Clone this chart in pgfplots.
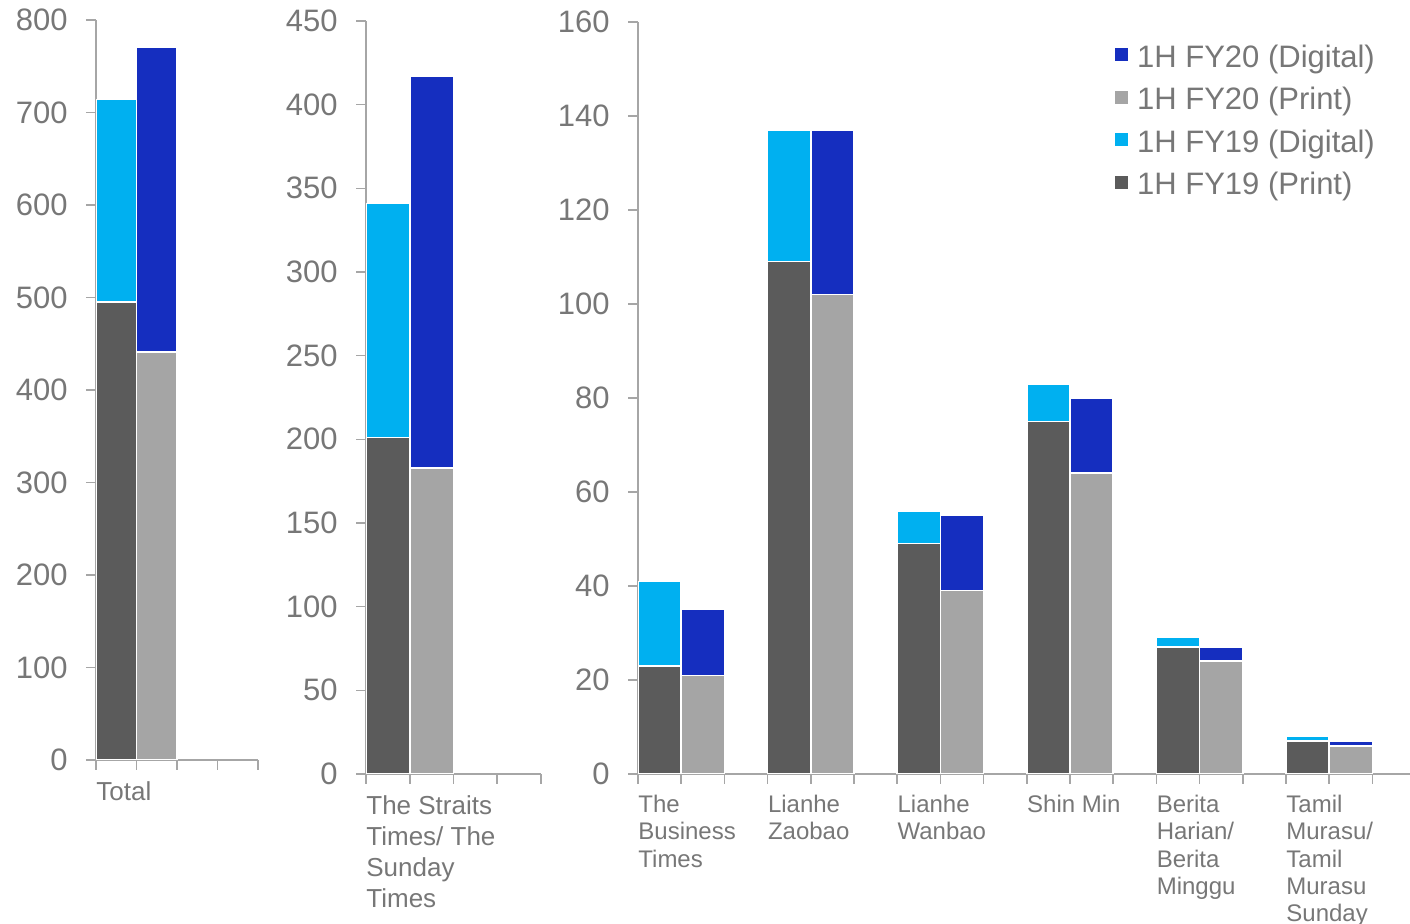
\documentclass[border=0pt]{standalone}
\usepackage{pgfplots}
\pgfplotsset{compat=1.18}
\usepackage{pgfplotstable}
\usepackage{fontspec}
\setmainfont{Liberation Sans}
\definecolor{pA}{HTML}{5B5B5B}
\definecolor{pB}{HTML}{A5A5A5}
\definecolor{dA}{HTML}{00B0F0}
\definecolor{dB}{HTML}{152EBF}
\definecolor{txt}{HTML}{777777}
\definecolor{axl}{HTML}{A6A6A6}

\pgfplotstableread{
x p19 d19 p20 d20
0.5 495 219 0 0
1.5 0 0 441 330
}\totaltab
\pgfplotstableread{
x p19 d19 p20 d20
0.5 201 140 0 0
1.5 0 0 183 234
}\sttab
\pgfplotstableread{
x p19 d19 p20 d20
0.5 23 18 0 0
1.5 0 0 21 14
3.5 109 28 0 0
4.5 0 0 102 35
6.5 49 7 0 0
7.5 0 0 39 16
9.5 75 8 0 0
10.5 0 0 64 16
12.5 27 2 0 0
13.5 0 0 24 3
15.5 7 1 0 0
16.5 0 0 6 1
}\othertab

\pgfplotsset{
  panel/.style={
    scale only axis, ybar stacked, bar width=1, ymin=0, xmin=0,
    enlargelimits=false,
    axis x line=bottom, axis y line=left,
    axis line style={axl, line width=1pt, -},
    tick style={axl, line width=0.8pt}, tick align=outside,
    major tick length=5pt,
    xticklabels={},
    yticklabel style={font=\fontsize{15.5}{15.5}\selectfont, text=txt, anchor=east, inner sep=0pt, xshift=-9pt},
    /pgf/number format/assume math mode=true,
    every axis plot/.append style={draw=white, line width=0.75pt},
    extra x tick style={major tick length=0pt,
      xticklabel style={anchor=north west, align=left, inner sep=0pt, text=txt, yshift=-10.5pt}},
  },
}

\begin{document}
\begin{tikzpicture}
\useasboundingbox (0,0) rectangle (705pt,462pt);

% Panel 1: Total
\begin{axis}[panel, at={(48pt,82pt)}, anchor=south west,
  width=81pt, height=370pt, xmax=4, ymax=800,
  xtick={0,1,2,3,4}, ytick={0,100,...,800},
  extra x ticks={0}, extra x tick labels={Total},
  extra x tick style={xticklabel style={font=\fontsize{13}{15.5}\selectfont}}]
\addplot[fill=pA] table[x=x,y=p19] {\totaltab};
\addplot[fill=dA] table[x=x,y=d19] {\totaltab};
\addplot[fill=pB] table[x=x,y=p20] {\totaltab};
\addplot[fill=dB] table[x=x,y=d20] {\totaltab};
\end{axis}

% Panel 2: The Straits Times
\begin{axis}[panel, at={(183pt,75pt)}, anchor=south west,
  width=87.5pt, height=376.5pt, xmax=4, ymax=450,
  xtick={0,1,2,3,4}, ytick={0,50,...,450},
  extra x ticks={0}, extra x tick labels={{The Straits\\Times/ The\\Sunday\\Times}},
  extra x tick style={xticklabel style={font=\fontsize{13}{15.5}\selectfont}}]
\addplot[fill=pA] table[x=x,y=p19] {\sttab};
\addplot[fill=dA] table[x=x,y=d19] {\sttab};
\addplot[fill=pB] table[x=x,y=p20] {\sttab};
\addplot[fill=dB] table[x=x,y=d20] {\sttab};
\end{axis}

% Panel 3: other titles
\begin{axis}[panel, at={(319pt,75pt)}, anchor=south west,
  width=388.8pt, height=376pt, xmax=18, ymax=160,
  xtick={0,1,...,18}, ytick={0,20,...,160},
  extra x ticks={0,3,6,9,12,15},
  extra x tick labels={{The\\Business\\Times},{Lianhe\\Zaobao},{Lianhe\\Wanbao},{Shin Min},{Berita\\Harian/\\Berita\\Minggu},{Tamil\\Murasu/\\Tamil\\Murasu\\Sunday}},
  extra x tick style={xticklabel style={font=\fontsize{12}{13.6}\selectfont}},
  reverse legend,
  legend cell align=left,
  legend style={at={(0.6134,0.972)}, anchor=north west, draw=none, fill=none,
    inner sep=0pt, row sep=5.2pt, column sep=0pt,
    font=\fontsize{15.5}{15.5}\selectfont, text=txt,
    nodes={inner sep=0pt, text height=12pt, text depth=4pt}},
  legend image code/.code={\fill[#1,draw=none] (0pt,-1pt) rectangle (6.5pt,5.5pt); \path (10.5pt,0pt);}]
\addplot[fill=pA] table[x=x,y=p19] {\othertab};
\addplot[fill=dA] table[x=x,y=d19] {\othertab};
\addplot[fill=pB] table[x=x,y=p20] {\othertab};
\addplot[fill=dB] table[x=x,y=d20] {\othertab};
\legend{1H FY19 (Print),1H FY19 (Digital),1H FY20 (Print),1H FY20 (Digital)}
\end{axis}
\end{tikzpicture}
\end{document}
